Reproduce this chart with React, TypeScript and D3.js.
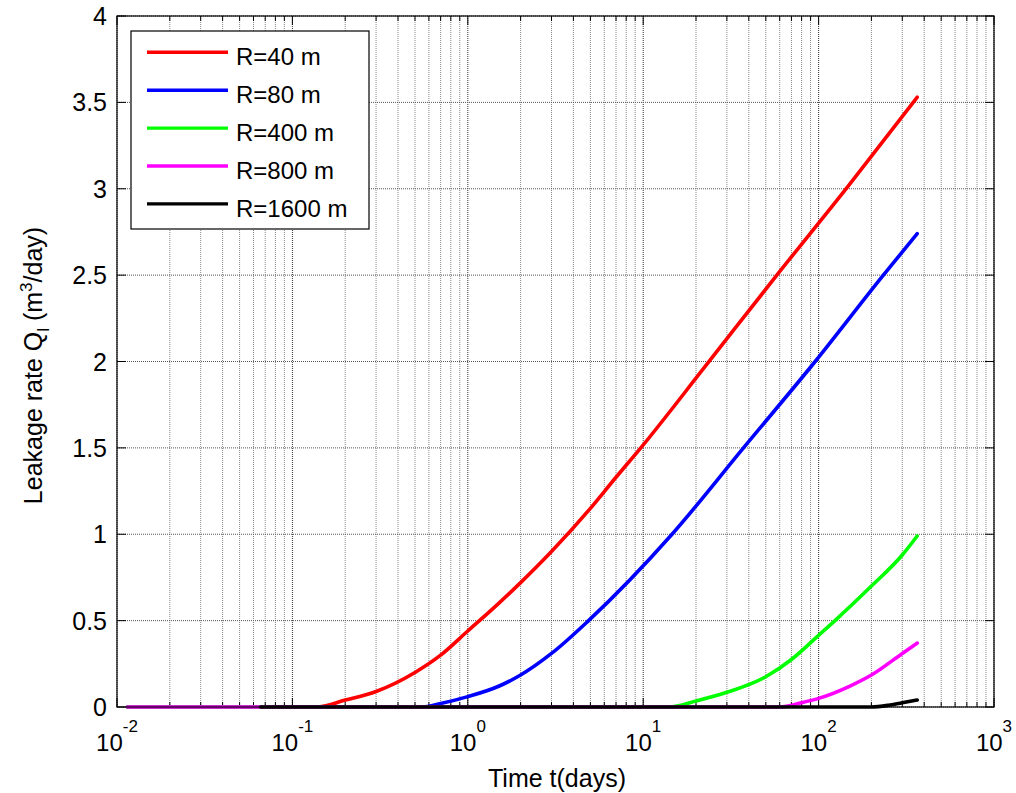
import React from "react";
import * as d3 from "d3";

const redT = [0.0115, 0.14, 0.2, 0.3, 0.5, 0.7, 1, 1.5, 2, 3, 5, 7, 9.69, 22.5, 57.8, 148.6, 365];
const redQ = [0, 0, 0.04, 0.09, 0.2, 0.3, 0.44, 0.6, 0.72, 0.9, 1.15, 1.33, 1.5, 1.97, 2.5, 3.02, 3.53];
const blueT = [0.0115, 0.55, 0.7, 1, 1.5, 2, 3, 4.88, 14.6, 37.3, 95.6, 234, 365];
const blueQ = [0, 0, 0.02, 0.06, 0.12, 0.185, 0.31, 0.5, 1.0, 1.5, 2.0, 2.5, 2.74];
const greenT = [0.0115, 14, 20, 30, 50, 70, 100, 124, 200, 300, 365];
const greenQ = [0, 0, 0.035, 0.085, 0.175, 0.275, 0.415, 0.5, 0.7, 0.88, 0.99];
const magentaT = [0.0115, 60, 80, 100, 150, 200, 300, 365];
const magentaQ = [0, 0, 0.025, 0.05, 0.12, 0.185, 0.31, 0.37];
const blackT = [0.066, 200, 250, 300, 365];
const blackQ = [0, 0, 0.01, 0.025, 0.04];

const seriesNames = ["R=40 m", "R=80 m", "R=400 m", "R=800 m", "R=1600 m"];
const seriesColors = ["#ff0000", "#0000ff", "#00ff00", "#ff00ff", "#000000"];
const seriesT = [redT, blueT, greenT, magentaT, blackT];
const seriesQ = [redQ, blueQ, greenQ, magentaQ, blackQ];

const xDecades = [-2, -1, 0, 1, 2, 3];
const yTicks = [0, 0.5, 1, 1.5, 2, 2.5, 3, 3.5, 4];

const W = 1016, H = 793;
const L = 117, R = 994, T = 16, B = 707;
const FONT = "Arial, 'Liberation Sans', sans-serif";

export default function App() {
  const x = d3.scaleLog().domain([0.01, 1000]).range([L, R]);
  const y = d3.scaleLinear().domain([0, 4]).range([B, T]);
  const minors: number[] = [];
  for (let d = -2; d < 3; d++) for (let m = 2; m <= 9; m++) minors.push(m * Math.pow(10, d));
  const line = d3.line<[number, number]>().x(d => x(d[0])).y(d => y(d[1])).curve(d3.curveMonotoneX);

  return (
    <svg width={W} height={H} style={{ position: "absolute", left: 0, top: 0, background: "#fff" }} fontFamily={FONT}>
      <rect x={0} y={0} width={W} height={H} fill="#fff" />
      {/* grid */}
      {minors.map((v, i) => (
        <line key={"mg" + i} x1={x(v)} x2={x(v)} y1={T} y2={B} stroke="#888" strokeWidth={1} strokeDasharray="1 1" />
      ))}
      {xDecades.map(d => (
        <line key={"dg" + d} x1={x(Math.pow(10, d))} x2={x(Math.pow(10, d))} y1={T} y2={B} stroke="#333" strokeWidth={1} strokeDasharray="1 1" />
      ))}
      {yTicks.map(v => (
        <line key={"hg" + v} x1={L} x2={R} y1={y(v)} y2={y(v)} stroke="#555" strokeWidth={1} strokeDasharray="1 1" />
      ))}
      {/* ticks */}
      {minors.map((v, i) => (
        <g key={"mt" + i}>
          <line x1={x(v)} x2={x(v)} y1={B} y2={B - 5} stroke="#000" />
          <line x1={x(v)} x2={x(v)} y1={T} y2={T + 5} stroke="#000" />
        </g>
      ))}
      {xDecades.map(d => (
        <g key={"dt" + d}>
          <line x1={x(Math.pow(10, d))} x2={x(Math.pow(10, d))} y1={B} y2={B - 9} stroke="#000" />
          <line x1={x(Math.pow(10, d))} x2={x(Math.pow(10, d))} y1={T} y2={T + 9} stroke="#000" />
        </g>
      ))}
      {yTicks.map(v => (
        <g key={"yt" + v}>
          <line x1={L} x2={L + 9} y1={y(v)} y2={y(v)} stroke="#000" />
          <line x1={R} x2={R - 9} y1={y(v)} y2={y(v)} stroke="#000" />
        </g>
      ))}
      {/* data */}
      {seriesT.map((ts, i) => {
        const pts: [number, number][] = ts.map((t, j) => [t, seriesQ[i][j]]);
        return <path key={"s" + i} d={line(pts) || ""} fill="none" stroke={seriesColors[i]} strokeWidth={3.6} strokeLinejoin="round" strokeLinecap="round" />;
      })}
      {/* frame */}
      <rect x={L} y={T} width={R - L} height={B - T} fill="none" stroke="#000" strokeWidth={1.2} />
      {/* y tick labels */}
      {yTicks.map(v => (
        <text key={"yl" + v} x={L - 10} y={y(v)} dy="0.36em" textAnchor="end" fontSize={25}>{String(v)}</text>
      ))}
      {/* x tick labels */}
      {xDecades.map(d => (
        <text key={"xl" + d} x={x(Math.pow(10, d))} y={751} textAnchor="middle" fontSize={24}>
          10<tspan dy={-19} fontSize={17}>{String(d)}</tspan>
        </text>
      ))}
      {/* axis titles */}
      <text x={557} y={787} textAnchor="middle" fontSize={25}>Time t(days)</text>
      <text transform={`translate(42, ${(T + B) / 2 + 4}) rotate(-90)`} textAnchor="middle" fontSize={25}>
        Leakage rate Q<tspan dy={7} fontSize={17}>l</tspan><tspan dy={-7}> (m</tspan><tspan dy={-10} fontSize={17}>3</tspan><tspan dy={10}>/day)</tspan>
      </text>
      {/* legend */}
      <rect x={131} y={31} width={238} height={198} fill="#fff" stroke="#000" strokeWidth={1.2} />
      {seriesNames.map((n, i) => {
        const cy = 52.3 + i * 37.9;
        return (
          <g key={"lg" + i}>
            <line x1={147} x2={228} y1={cy} y2={cy} stroke={seriesColors[i]} strokeWidth={3.4} />
            <text x={236} y={cy + 12.7} fontSize={24}>{n}</text>
          </g>
        );
      })}
    </svg>
  );
}
